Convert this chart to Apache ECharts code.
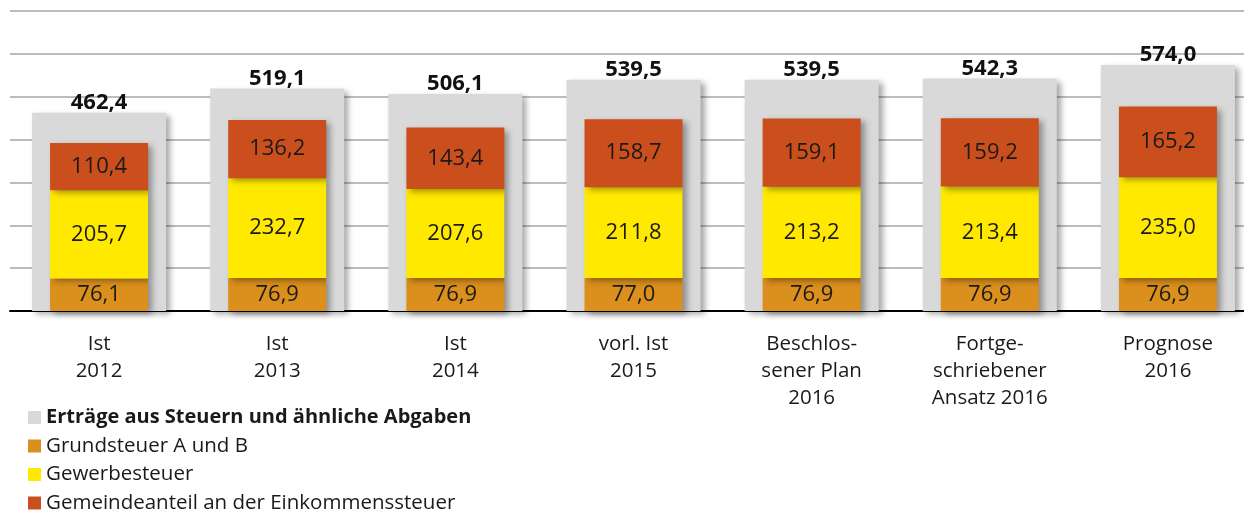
<!DOCTYPE html>
<html>
<head>
<meta charset="utf-8">
<script src="https://cdn.jsdelivr.net/npm/echarts@6/dist/echarts.min.js"></script>
<style>
  html, body { margin: 0; padding: 0; background: #fff; overflow: hidden; }
  /* Plotfläche läuft rechts über den Bildrand hinaus */
  #chart { width: 1257px; height: 530px; }
</style>
</head>
<body>
<div id="chart"></div>
<script>
// Kategorien
const categories = ['Ist\n2012', 'Ist\n2013', 'Ist\n2014', 'vorl. Ist\n2015',
  'Beschlos-\nsener Plan\n2016', 'Fortge-\nschriebener\nAnsatz 2016', 'Prognose\n2016'];
// Werte in Mio. EUR
const ertraege = [462.4, 519.1, 506.1, 539.5, 539.5, 542.3, 574.0];
const grundsteuer = [76.1, 76.9, 76.9, 77.0, 76.9, 76.9, 76.9];
const gewerbesteuer = [205.7, 232.7, 207.6, 211.8, 213.2, 213.4, 235.0];
const einkommensteuer = [110.4, 136.2, 143.4, 158.7, 159.1, 159.2, 165.2];

const FONT = 'Open Sans';
const fmt = p => p.value.toFixed(1).replace('.', ',');
const shadow = { shadowBlur: 6, shadowOffsetX: 4, shadowOffsetY: 3, shadowColor: 'rgba(0,0,0,0.35)' };

function stackSeries (name, data, color) {
  return {
    name: name,
    type: 'bar',
    stack: 'steuer',
    xAxisIndex: 0,
    barWidth: 98,
    data: data,
    itemStyle: Object.assign({ color: color }, shadow),
    label: {
      show: true,
      position: 'inside',
      formatter: fmt,
      fontFamily: FONT,
      fontSize: 22,
      color: '#1a1a1a'
    }
  };
}

const chart = echarts.init(document.getElementById('chart'));
chart.setOption({
  animation: false,
  textStyle: { fontFamily: FONT },
  grid: { left: 10, right: 0, top: 11, bottom: 219 },
  legend: {
    orient: 'vertical',
    left: 28,
    top: 407,
    padding: 0,
    height: 120,
    icon: 'rect',
    itemWidth: 13,
    itemHeight: 13,
    itemGap: 7.5,
    itemStyle: { shadowBlur: 0, shadowOffsetX: 0, shadowOffsetY: 0 },
    textStyle: { fontFamily: FONT, fontSize: 20.5, color: '#1a1a1a', lineHeight: 21 },
    data: [
      { name: 'Erträge aus Steuern und ähnliche Abgaben', textStyle: { fontWeight: 'bold', fontSize: 20 } },
      'Grundsteuer A und B',
      'Gewerbesteuer',
      'Gemeindeanteil an der Einkommenssteuer'
    ]
  },
  xAxis: [
    {
      type: 'category',
      data: categories,
      axisLine: { lineStyle: { color: '#000', width: 2 } },
      axisTick: { inside: true, length: 7, lineStyle: { color: '#000', width: 1.5 } },
      axisLabel: {
        interval: 0,
        margin: 20,
        fontFamily: FONT,
        fontSize: 20.5,
        lineHeight: 27,
        color: '#1a1a1a',
        verticalAlign: 'top'
      }
    },
    { type: 'category', data: categories, show: false }
  ],
  yAxis: {
    type: 'value',
    min: 0,
    max: 700,
    interval: 100,
    axisLabel: { show: false },
    axisLine: { show: false },
    axisTick: { show: false },
    splitLine: { lineStyle: { color: '#a6a6a6', width: 1.5 } }
  },
  series: [
    {
      name: 'Erträge aus Steuern und ähnliche Abgaben',
      type: 'bar',
      xAxisIndex: 1,
      barWidth: 134,
      data: ertraege,
      itemStyle: Object.assign({ color: '#d9d9d9' }, shadow),
      label: {
        show: true,
        position: 'top',
        distance: -1,
        formatter: fmt,
        fontFamily: FONT,
        fontSize: 22,
        fontWeight: 'bold',
        color: '#111'
      }
    },
    stackSeries('Grundsteuer A und B', grundsteuer, '#db8f1c'),
    stackSeries('Gewerbesteuer', gewerbesteuer, '#ffe900'),
    stackSeries('Gemeindeanteil an der Einkommenssteuer', einkommensteuer, '#ca4f1c')
  ]
});
</script>
</body>
</html>
